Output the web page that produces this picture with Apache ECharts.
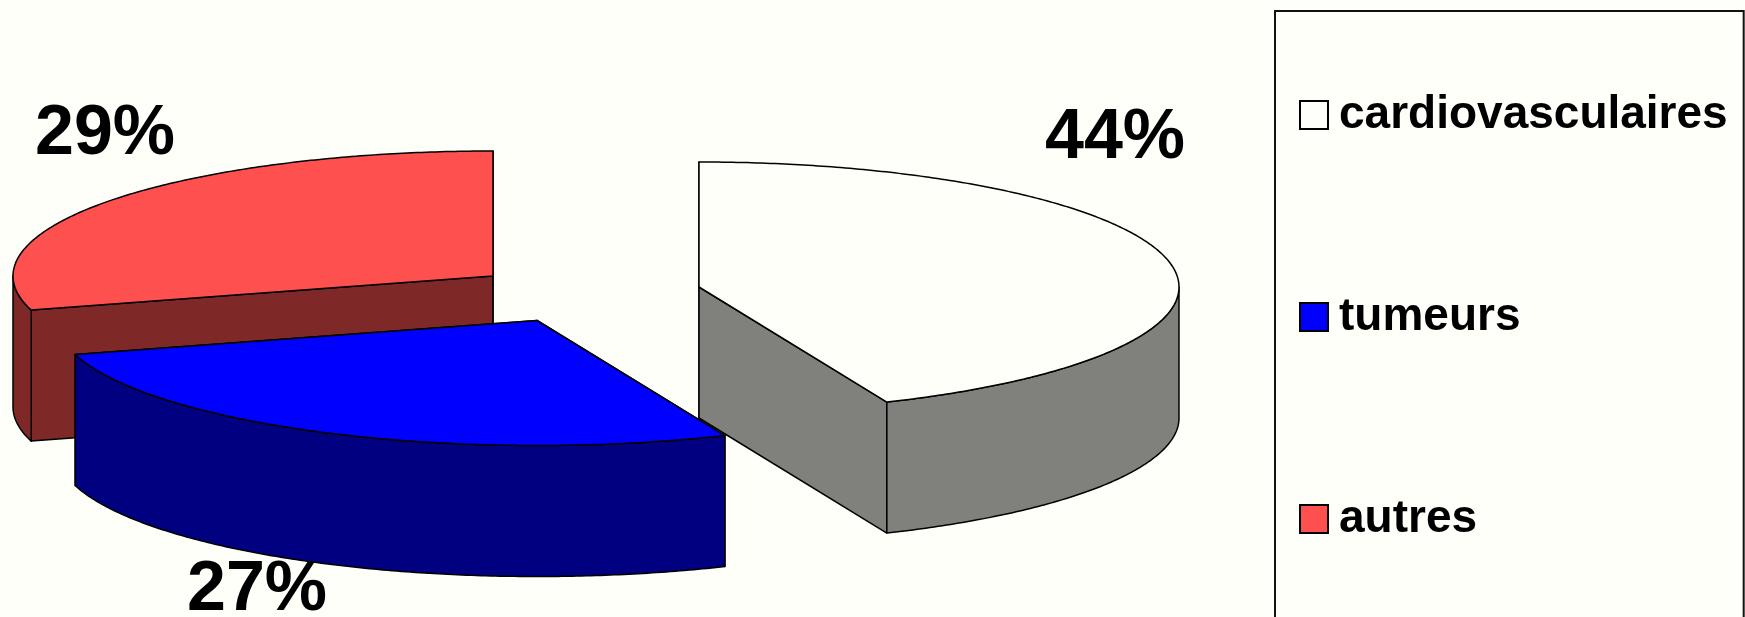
<!DOCTYPE html>
<html><head><meta charset="utf-8">
<style>html,body{margin:0;padding:0;background:#FFFFFA}#c{width:1745px;height:617px}</style>
<script src="https://cdn.jsdelivr.net/npm/echarts@6/dist/echarts.min.js"></script>
</head><body><div id="c"></div>
<script>
// data
const categories = ['cardiovasculaires', 'tumeurs', 'autres'];
const values = [43.6, 27, 29.4];
const percentLabels = ['44%', '27%', '29%'];
// styles and layout
const topColors = ['#FFFFFA', '#0000FF', '#FF5050'];
const sideColors = ['#80807D', '#000080', '#7F2828'];
const centers = [[699, 287], [537, 320.5], [493, 276]];
const labelPos = [[1115, 139], [257, 591], [105, 135]];
const drawOrder = [1, 2, 0];   // z per slice: autres, cardio, tumeurs
const RX = 480, RY = 125, DEPTH = 131;
const STROKE = '#000', LW = 1.5;
const total = values.reduce((a, b) => a + b, 0);

function sliceItem(i) {
  return function () {
    let before = 0;
    for (let k = 0; k < i; k++) before += values[k];
    const a0 = before / total * 2 * Math.PI, a1 = (before + values[i]) / total * 2 * Math.PI;
    const [cx, cy] = centers[i];
    const pt = (a, dz) => [cx + RX * Math.sin(a), cy - RY * Math.cos(a) + (dz || 0)];
    const arc = (s, e, dz) => {
      const n = Math.max(2, Math.ceil(Math.abs(e - s) / 0.01)), r = [];
      for (let j = 0; j <= n; j++) r.push(pt(s + (e - s) * j / n, dz));
      return r;
    };
    const children = [];
    const poly = (points, fill) => children.push({
      type: 'polygon', shape: { points },
      style: { fill, stroke: STROKE, lineWidth: LW, lineJoin: 'round' }
    });
    const apex = [cx, cy], apexB = [cx, cy + DEPTH];
    poly([apex, pt(a0), pt(a0, DEPTH), apexB], sideColors[i]);
    poly([apex, pt(a1), pt(a1, DEPTH), apexB], sideColors[i]);
    // outer wall: only the front half of the rim (PI/2..3PI/2) faces the viewer
    const ws = Math.max(a0, Math.PI / 2), we = Math.min(a1, 3 * Math.PI / 2);
    if (we > ws) {
      poly(arc(ws, we, 0).concat(arc(we, ws, DEPTH)), sideColors[i]);
    }
    poly([apex].concat(arc(a0, a1, 0)), topColors[i]);
    return { type: 'group', children };
  };
}
function labelItem(i) {
  return function () {
    return { type: 'text', z2: 100, style: {
      text: percentLabels[i], x: labelPos[i][0], y: labelPos[i][1],
      align: 'center', verticalAlign: 'middle',
      font: 'bold 70px "Liberation Sans", Arial, sans-serif', fill: '#000'
    } };
  };
}
const series = categories.map((name, i) => ({
  type: 'custom', name, coordinateSystem: 'none', silent: true, animation: false,
  z: 2 + drawOrder[i],
  itemStyle: { color: topColors[i], borderColor: '#000', borderWidth: 1.5 },
  data: [values[i]], renderItem: sliceItem(i), clip: false
}));
categories.forEach((name, i) => series.push({
  type: 'custom', coordinateSystem: 'none', silent: true, animation: false, z: 10,
  data: [percentLabels[i]], renderItem: labelItem(i)
}));
const chart = echarts.init(document.getElementById('c'), null, { renderer: 'canvas' });
chart.setOption({
  backgroundColor: '#FFFFFA',
  animation: false,
  tooltip: { show: false },
  legend: {
    orient: 'vertical', left: 1275, top: 11, height: 800, selectedMode: false,
    data: categories.map(name => ({ name, icon: 'rect' })),
    itemWidth: 28, itemHeight: 28, itemGap: 156,
    padding: [81, 16, 200, 24],
    borderColor: '#111', borderWidth: 2,
    textStyle: { fontFamily: '"Liberation Sans", Arial, sans-serif', fontWeight: 'bold', fontSize: 46, color: '#000', padding: [0, 0, 0, 6] }
  },
  series
});
</script></body></html>
